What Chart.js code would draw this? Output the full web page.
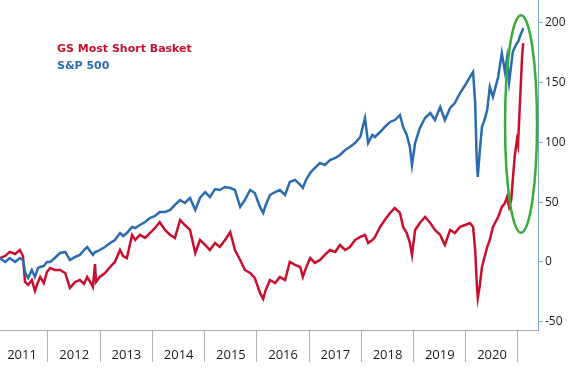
<!DOCTYPE html>
<html>
<head>
<meta charset="utf-8">
<script src="https://cdn.jsdelivr.net/npm/chart.js@4/dist/chart.umd.min.js"></script>
<style>
  html, body { margin: 0; padding: 0; background: #ffffff; }
  #wrap { position: relative; width: 570px; height: 376px; }
  canvas { display: block; }
  .leg { position: absolute; left: 57px; font-family: "DejaVu Sans", Verdana, sans-serif; font-weight: bold; font-size: 11px; line-height: 13px; white-space: nowrap; }
</style>
</head>
<body>
<div id="wrap">
  <canvas id="c" width="570" height="376"></canvas>
  <div class="leg" style="top:42px; color:#c8102e;">GS Most Short Basket</div>
  <div class="leg" style="top:59px; color:#2b6cb0;">S&amp;P 500</div>
</div>
<script>
// Dates as decimal years
const dates = [2011.08,2011.18,2011.27,2011.37,2011.46,2011.52,2011.56,2011.62,2011.69,2011.75,2011.81,2011.85,2011.92,2011.98,
2012.04,2012.13,2012.23,2012.33,2012.42,2012.52,2012.61,2012.69,2012.75,2012.82,2012.86,2012.90,2012.92,2012.99,
2013.09,2013.19,2013.28,2013.38,2013.44,2013.51,2013.61,2013.67,2013.76,2013.86,2013.95,
2014.05,2014.14,2014.24,2014.34,2014.43,2014.53,2014.62,2014.72,2014.82,2014.91,
2015.01,2015.10,2015.20,2015.29,2015.39,2015.49,2015.58,2015.68,2015.77,2015.87,2015.96,
2016.06,2016.12,2016.17,2016.25,2016.35,2016.44,2016.54,2016.63,2016.73,2016.83,2016.88,2016.94,
2017.02,2017.11,2017.21,2017.30,2017.40,2017.50,2017.59,2017.69,2017.78,2017.88,2017.98,
2018.07,2018.13,2018.21,2018.26,2018.36,2018.45,2018.55,2018.64,2018.74,2018.80,2018.87,2018.93,2018.97,
2019.03,2019.12,2019.22,2019.32,2019.41,2019.51,2019.60,2019.70,2019.79,2019.89,2019.99,
2020.08,2020.14,2020.18,2020.21,2020.23,2020.27,2020.31,2020.37,2020.41,2020.46,2020.52,2020.62,2020.69,2020.75,2020.79,2020.83,2020.87,2020.90,2020.94,2020.98,
2021.00,2021.04,2021.08,2021.10];

const sp500 = [3.3,0,3.3,0,3.3,1.7,-8.4,-13.4,-6.7,-12.5,-5.0,-4.2,-3.3,0,
0,3.3,7.5,8.4,1.7,4.2,5.9,10.0,12.5,8.4,5.9,8.4,8.4,10.0,
12.5,15.9,18.4,24.2,21.7,24.2,29.3,28.4,30.9,33.4,36.8,
38.5,41.8,41.8,43.5,47.7,51.8,49.3,53.5,43.5,53.5,
58.5,54.3,61.0,60.2,62.7,61.9,60.2,46.0,51.8,60.2,57.7,
46.0,41.0,47.7,56.0,58.5,60.2,56.0,66.9,68.6,64.4,61.9,68.6,
74.4,78.6,82.8,81.1,85.3,87.0,89.5,93.6,96.2,99.5,104.5,
120.4,99.5,106.2,104.5,108.7,112.9,117.1,118.7,122.9,112.9,106.2,96.2,81.1,
99.5,112.0,120.4,124.6,118.7,129.6,118.7,128.8,132.9,141.3,148.0,
154.7,158.9,132.9,85.3,71.1,93.6,112.9,120.4,127.1,146.3,138.0,154.7,174.7,158.9,170.6,150.5,164.7,175.6,179.8,183.1,
183.9,189.0,193.1,195.6];

const gsMostShort = [3.3,5.0,8.4,6.7,10.0,5.0,-16.7,-19.2,-15.1,-24.2,-16.7,-12.5,-17.6,-8.4,
-5.0,-6.7,-6.7,-9.2,-21.7,-16.7,-15.1,-18.4,-12.5,-17.6,-20.9,-1.7,-16.7,-12.5,
-9.2,-4.2,0,10.0,5.0,3.3,22.6,18.4,22.6,20.1,24.2,
28.4,33.4,26.8,22.6,20.1,35.1,30.9,26.8,7.5,18.4,
14.2,10.0,15.9,12.5,18.4,25.1,10.0,1.7,-6.7,-9.2,-13.4,
-25.9,-30.9,-23.4,-15.1,-17.6,-12.5,-15.1,0,-2.5,-4.2,-12.5,-5.0,
3.3,-0.8,1.7,5.9,10.0,8.4,14.2,10.0,12.5,18.4,20.9,
22.6,15.9,18.4,20.9,29.3,35.1,41.0,45.1,41.0,29.3,24.2,15.9,5.9,
26.8,32.6,37.6,32.6,26.8,22.6,14.2,26.8,24.2,29.3,30.9,
32.6,29.3,10.0,-17.6,-30.1,-19.2,-4.2,5.9,12.5,18.4,29.3,37.6,46.0,49.3,54.3,46.0,51.8,68.6,89.5,102.0,
97.8,135.5,173.1,183.1];

const yearTicks = [2012,2013,2014,2015,2016,2017,2018,2019,2020,2021];
const valueTicks = [-50,0,50,100,150,200];

const ellipsePlugin = {
  id: 'ellipse',
  afterDatasetsDraw(chart) {
    const xs = chart.scales.x, ys = chart.scales.y, ctx = chart.ctx;
    const cx = xs.getPixelForValue(2021.058), cy = ys.getPixelForValue(115.4);
    const rx = Math.abs(xs.getPixelForValue(2021.058 + 0.306) - cx);
    const ry = Math.abs(ys.getPixelForValue(115.4 + 91) - cy);
    ctx.save();
    ctx.beginPath();
    ctx.ellipse(cx, cy, rx, ry, 0, 0, Math.PI * 2);
    ctx.strokeStyle = '#3aab3a';
    ctx.lineWidth = 2.5;
    ctx.stroke();
    ctx.restore();
  }
};

new Chart(document.getElementById('c'), {
  type: 'line',
  data: {
    datasets: [
      { label: 'S&P 500', data: dates.map((d, i) => ({x: d, y: sp500[i]})), borderColor: '#2b6cb0', borderWidth: 2.5, pointRadius: 0, tension: 0, order: 1 },
      { label: 'GS Most Short Basket', data: dates.map((d, i) => ({x: d, y: gsMostShort[i]})), borderColor: '#c8102e', borderWidth: 2.5, pointRadius: 0, tension: 0, order: 2 }
    ]
  },
  options: {
    responsive: false,
    animation: false,
    layout: { padding: 0 },
    plugins: { legend: { display: false }, tooltip: { enabled: false } },
    scales: {
      x: {
        type: 'linear', position: 'bottom', min: 2011.081, max: 2021.383,
        afterBuildTicks: s => { s.ticks = yearTicks.map(v => ({value: v})); },
        afterFit: s => { s.height = 46; s.paddingLeft = 0; s.paddingRight = 0; },
        grid: { drawOnChartArea: false, drawTicks: true, tickLength: 32, color: '#b0b0b0', lineWidth: 1 },
        border: { display: true, color: '#a8a8a8', width: 1 },
        ticks: { autoSkip: false, maxRotation: 0, padding: -15, labelOffset: -26,
          callback: v => String(v - 1), color: '#1a1a1a', font: { family: 'Open Sans', size: 13 } }
      },
      y: {
        type: 'linear', position: 'right', min: -56.9, max: 219.1,
        afterBuildTicks: s => { s.ticks = valueTicks.map(v => ({value: v})); },
        afterFit: s => { s.width = 32; s.paddingTop = 0; s.paddingBottom = 0; },
        grid: { drawOnChartArea: false, drawTicks: true, tickLength: 5, color: '#7fa6cf' },
        border: { display: true, color: '#7fa6cf', width: 1 },
        ticks: { padding: 2, color: '#1a1a1a', font: { family: 'Open Sans', size: 12 } }
      }
    }
  },
  plugins: [ellipsePlugin]
});
</script>
</body>
</html>
